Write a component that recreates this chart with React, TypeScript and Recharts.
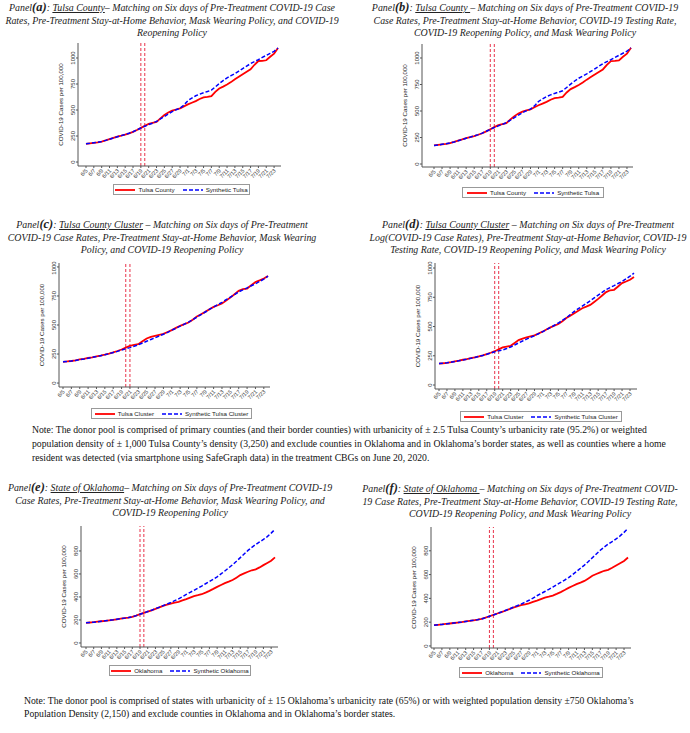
import React from 'react';
import { LineChart, Line, XAxis, YAxis, ReferenceLine } from 'recharts';

// daily dates 6/5 .. 7/24
const dates = [
  '6/5', '6/6', '6/7', '6/8', '6/9', '6/10', '6/11', '6/12', '6/13', '6/14',
  '6/15', '6/16', '6/17', '6/18', '6/19', '6/20', '6/21', '6/22', '6/23', '6/24',
  '6/25', '6/26', '6/27', '6/28', '6/29', '6/30', '7/1', '7/2', '7/3', '7/4',
  '7/5', '7/6', '7/7', '7/8', '7/9', '7/10', '7/11', '7/12', '7/13', '7/14',
  '7/15', '7/16', '7/17', '7/18', '7/19', '7/20', '7/21', '7/22', '7/23', '7/24',
];

const treatmentDays = ['6/19', '6/20'];
const clusterTreatmentDays = ['6/20', '6/21'];

const tulsaCounty = [
  175, 180, 185, 190, 197, 208, 220, 232, 245, 254,
  264, 276, 290, 308, 328, 348, 366, 376, 385, 420,
  452, 476, 494, 505, 516, 535, 554, 570, 586, 606,
  621, 626, 634, 675, 707, 725, 745, 768, 796, 820,
  844, 868, 892, 935, 971, 972, 978, 1012, 1041, 1096,
];
const synthTulsa = [
  175, 180, 186, 191, 198, 208, 219, 231, 243, 254,
  265, 277, 291, 309, 327, 344, 360, 373, 390, 415,
  438, 462, 484, 503, 518, 548, 590, 615, 637, 652,
  666, 678, 691, 722, 754, 783, 809, 830, 850, 874,
  898, 922, 946, 966, 984, 1005, 1025, 1045, 1064, 1096,
];
const tulsaCluster = [
  183, 186, 190, 196, 203, 209, 216, 222, 229, 236,
  244, 253, 264, 276, 289, 305, 321, 328, 335, 360,
  384, 397, 407, 416, 424, 440, 456, 475, 493, 508,
  521, 545, 573, 593, 613, 635, 656, 670, 685, 710,
  736, 765, 794, 810, 814, 842, 871, 885, 900, 923,
];
const synthClusterC = [
  183, 186, 190, 195, 201, 207, 214, 221, 228, 236,
  244, 253, 263, 273, 285, 295, 305, 317, 330, 345,
  360, 375, 390, 405, 420, 437, 455, 472, 490, 507,
  525, 546, 568, 590, 612, 634, 655, 675, 695, 718,
  740, 762, 785, 803, 820, 838, 855, 875, 895, 920,
];
const synthClusterD = [
  183, 186, 190, 195, 201, 207, 214, 221, 228, 236,
  244, 253, 263, 273, 285, 292, 300, 312, 325, 342,
  360, 376, 392, 407, 422, 438, 455, 473, 492, 511,
  530, 552, 575, 602, 630, 652, 674, 697, 720, 744,
  768, 792, 816, 833, 850, 868, 885, 907, 930, 957,
];
const oklahoma = [
  175, 178, 181, 185, 189, 193, 197, 201, 206, 211,
  216, 221, 227, 238, 250, 261, 273, 284, 296, 309,
  323, 333, 343, 350, 358, 370, 381, 394, 407, 415,
  424, 438, 453, 470, 488, 504, 520, 533, 547, 568,
  590, 605, 619, 632, 640, 657, 677, 696, 715, 744,
];
const synthOklahoma = [
  175, 178, 181, 185, 189, 193, 197, 201, 206, 211,
  216, 221, 227, 238, 250, 261, 273, 285, 298, 311,
  325, 338, 352, 368, 384, 402, 422, 440, 458, 476,
  495, 515, 534, 554, 575, 600, 626, 653, 680, 710,
  742, 773, 805, 832, 856, 878, 900, 925, 955, 988,
];

const tulsaTicks = [0, 250, 500, 750, 1000];
const oklahomaTicks = [0, 200, 400, 600, 800];

const rows = (actual: number[], synthetic: number[]) =>
  dates.map((date, i) => ({ date, actual: actual[i], synthetic: synthetic[i] }));

const serif = '"Liberation Serif", "Times New Roman", serif';
const sans = '"Liberation Sans", Arial, sans-serif';
const AX = 30;

const XTick = (p: any) => (
  <g transform={`translate(${p.x},${p.y})`}>
    <text x={0} y={0} dy={3} textAnchor="end" transform="rotate(-45)" fontSize={5.5} fill="#333" fontFamily={sans}>
      {p.payload.value}
    </text>
  </g>
);

const YTick = (p: any) => (
  <g transform={`translate(${p.x},${p.y})`}>
    <text x={0} y={0} textAnchor="middle" transform="rotate(-90)" fontSize={6} fill="#333" fontFamily={sans}>
      {p.payload.value}
    </text>
  </g>
);

interface PanelProps {
  x: number; y: number; w: number; h: number;
  data: { date: string; actual: number; synthetic: number }[];
  domain: [number, number]; ticks: number[];
  padL: number; padR: number;
  marks?: string[];
}

function Panel({ x, y, w, h, data, domain, ticks, padL, padR, marks = treatmentDays }: PanelProps) {
  return (
    <div style={{ position: 'absolute', left: x - AX, top: y - 4 }}>
      <LineChart width={AX + w + 4} height={h + 34} data={data} margin={{ top: 4, right: 4, bottom: 0, left: 0 }}>
        <XAxis
          dataKey="date" interval={1} height={30} tick={<XTick />} tickSize={2} tickMargin={1}
          padding={{ left: padL, right: padR }} stroke="#555" />
        <YAxis
          width={AX} domain={domain} ticks={ticks} allowDataOverflow tick={<YTick />} tickSize={2} tickMargin={1}
          stroke="#555"
          label={{
            content: () => (
              <text
                x={AX - 15} y={4 + h / 2} textAnchor="middle" fontSize={6.2} fill="#222" fontFamily={sans}
                transform={`rotate(-90, ${AX - 15}, ${4 + h / 2})`}>
                COVID-19 Cases per 100,000
              </text>
            ),
          }} />
        {marks.map(d => (
          <ReferenceLine key={d} x={d} stroke="#e8334a" strokeWidth={1} strokeDasharray="3 2" />
        ))}
        <Line dataKey="actual" stroke="#ff0000" strokeWidth={1.8} dot={false} isAnimationActive={false} />
        <Line dataKey="synthetic" stroke="#0000ff" strokeWidth={1.5} strokeDasharray="4 2" dot={false} isAnimationActive={false} />
      </LineChart>
    </div>
  );
}

function Legend({ x, y, w, actual, synthetic }: { x: number; y: number; w: number; actual: string; synthetic: string }) {
  return (
    <div style={{
      position: 'absolute', left: x, top: y, width: w, height: 11, border: '1px solid #999',
      display: 'flex', alignItems: 'center', justifyContent: 'center', gap: 3, whiteSpace: 'nowrap',
      fontFamily: sans, fontSize: 6.2, color: '#222', boxSizing: 'border-box',
    }}>
      <svg width={20} height={4} style={{ flexShrink: 0 }}><line x1={0} y1={2} x2={20} y2={2} stroke="#ff0000" strokeWidth={1.8} /></svg>
      <span style={{ marginRight: 5, flexShrink: 0 }}>{actual}</span>
      <svg width={20} height={4} style={{ flexShrink: 0 }}><line x1={0} y1={2} x2={20} y2={2} stroke="#0000ff" strokeWidth={1.6} strokeDasharray="4 2" /></svg>
      <span style={{ flexShrink: 0 }}>{synthetic}</span>
    </div>
  );
}

function Title({ cx, y, w, letter, place, sep, lines }: {
  cx: number; y: number; w: number; letter: string; place: string; sep: string; lines: string[];
}) {
  return (
    <div style={{
      position: 'absolute', left: cx - w / 2, top: y, width: w, textAlign: 'center',
      fontFamily: serif, fontStyle: 'italic', fontSize: 9.9, lineHeight: '12.6px', color: '#222', whiteSpace: 'nowrap',
    }}>
      Panel<b style={{ fontSize: 12.5, lineHeight: '10px' }}>({letter})</b>: <span style={{ textDecoration: 'underline' }}>{place}</span>{sep}{lines[0]}
      <br />{lines[1]}
      <br />{lines[2]}
    </div>
  );
}

const noteStyle: React.CSSProperties = {
  position: 'absolute', fontFamily: serif, fontSize: 9.7, lineHeight: '14px', color: '#111', whiteSpace: 'nowrap',
};

export default function App() {
  return (
    <div style={{ position: 'absolute', left: 0, top: 0, width: 690, height: 733, background: '#fff' }}>
      <Title cx={172} y={2} w={345} letter="a" place="Tulsa County" sep="– "
        lines={['Matching on Six days of Pre-Treatment COVID-19 Case',
          'Rates, Pre-Treatment Stay-at-Home Behavior, Mask Wearing Policy, and COVID-19', 'Reopening Policy']} />
      <Panel x={78} y={43} w={203} h={123} data={rows(tulsaCounty, synthTulsa)} domain={[-38, 1144]} ticks={tulsaTicks} padL={8} padR={3} />
      <Legend x={113} y={184} w={137} actual="Tulsa County" synthetic="Synthetic Tulsa" />

      <Title cx={525} y={2} w={345} letter="b" place="Tulsa County " sep="– "
        lines={['Matching on Six days of Pre-Treatment COVID-19',
          'Case Rates, Pre-Treatment Stay-at-Home Behavior, COVID-19 Testing Rate,', 'COVID-19 Reopening Policy, and Mask Wearing Policy']} />
      <Panel x={422} y={44} w={211} h={123} data={rows(tulsaCounty, synthTulsa)} domain={[-28, 1132]} ticks={tulsaTicks} padL={12} padR={2} />
      <Legend x={462} y={187} w={142} actual="Tulsa County" synthetic="Synthetic Tulsa" />

      <Title cx={162} y={219} w={345} letter="c" place="Tulsa County Cluster" sep=" – "
        lines={['Matching on Six days of Pre-Treatment',
          'COVID-19 Case Rates, Pre-Treatment Stay-at-Home Behavior, Mask Wearing', 'Policy, and COVID-19 Reopening Policy']} />
      <Panel x={59} y={263} w={211} h={124} data={rows(tulsaCluster, synthClusterC)} domain={[-34, 1034]} ticks={tulsaTicks} padL={4} padR={2} marks={clusterTreatmentDays} />
      <Legend x={91} y={408} w={161} actual="Tulsa Cluster" synthetic="Synthetic Tulsa Cluster" />

      <Title cx={528} y={219} w={345} letter="d" place="Tulsa County Cluster" sep=" – "
        lines={['Matching on Six days of Pre-Treatment',
          'Log(COVID-19 Case Rates), Pre-Treatment Stay-at-Home Behavior, COVID-19', 'Testing Rate, COVID-19 Reopening Policy, and Mask Wearing Policy']} />
      <Panel x={435} y={263} w={202} h={126} data={rows(tulsaCluster, synthClusterD)} domain={[-34, 1043]} ticks={tulsaTicks} padL={4} padR={3} />
      <Legend x={460} y={411} w={162} actual="Tulsa Cluster" synthetic="Synthetic Tulsa Cluster" />

      <div style={{ ...noteStyle, left: 32, top: 423 }}>
        Note: The donor pool is comprised of primary counties (and their border counties) with urbanicity of ± 2.5 Tulsa County’s urbanicity rate (95.2%) or weighted
        <br />population density of ± 1,000 Tulsa County’s density (3,250) and exclude counties in Oklahoma and in Oklahoma’s border states, as well as counties where a home
        <br />resident was detected (via smartphone using SafeGraph data) in the treatment CBGs on June 20, 2020.
      </div>

      <Title cx={170} y={482} w={345} letter="e" place="State of Oklahoma" sep="– "
        lines={['Matching on Six days of Pre-Treatment COVID-19',
          'Case Rates, Pre-Treatment Stay-at-Home Behavior, Mask Wearing Policy, and', 'COVID-19 Reopening Policy']} />
      <Panel x={81} y={526} w={197} h={121} data={rows(oklahoma, synthOklahoma)} domain={[-35, 1017]} ticks={oklahomaTicks} padL={5} padR={3} />
      <Legend x={109} y={665} w={142} actual="Oklahoma" synthetic="Synthetic Oklahoma" />

      <Title cx={520} y={483} w={345} letter="f" place="State of Oklahoma " sep="– "
        lines={['Matching on Six days of Pre-Treatment COVID-',
          '19 Case Rates, Pre-Treatment Stay-at-Home Behavior, COVID-19 Testing Rate,', 'COVID-19 Reopening Policy, and Mask Wearing Policy']} />
      <Panel x={431} y={527} w={200} h={121} data={rows(oklahoma, synthOklahoma)} domain={[-17, 1000]} ticks={oklahomaTicks} padL={3} padR={3} />
      <Legend x={459} y={667} w={144} actual="Oklahoma" synthetic="Synthetic Oklahoma" />

      <div style={{ ...noteStyle, left: 24, top: 694, lineHeight: '13px' }}>
        Note: The donor pool is comprised of states with urbanicity of ± 15 Oklahoma’s urbanicity rate (65%) or with weighted population density ±750 Oklahoma’s
        <br />Population Density (2,150) and exclude counties in Oklahoma and in Oklahoma’s border states.
      </div>
    </div>
  );
}
